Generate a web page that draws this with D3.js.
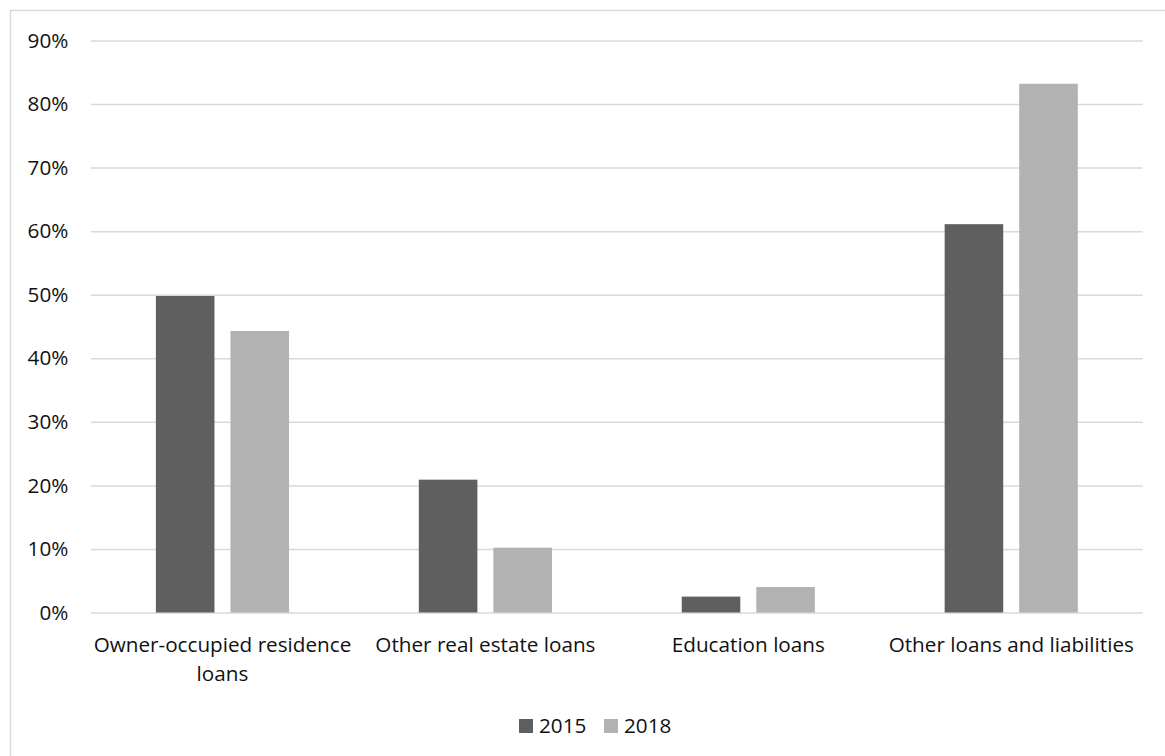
<!DOCTYPE html>
<html>
<head>
<meta charset="utf-8">
<script src="https://cdn.jsdelivr.net/npm/d3@7/dist/d3.min.js"></script>
<style>
  html, body { margin: 0; padding: 0; background: #fff; }
  svg { display: block; }
  text { font-family: "Open Sans", "Noto Sans", sans-serif; fill: #111; }
</style>
</head>
<body>
<svg id="chart" width="1165" height="756"></svg>
<script>
const categories = ["Owner-occupied residence loans", "Other real estate loans", "Education loans", "Other loans and liabilities"];
const seriesNames = ["2015", "2018"];
const values2015 = [0.498, 0.209, 0.025, 0.611];
const values2018 = [0.443, 0.102, 0.040, 0.832];
const yTicks = [0, 0.1, 0.2, 0.3, 0.4, 0.5, 0.6, 0.7, 0.8, 0.9];
const colors = ["#5f5f5f", "#b2b2b2"];

const seriesValues = [values2015, values2018];
const svg = d3.select("#chart");
const W = 1165, H = 756;
const FS = 20.7;

// outer border (chart area)
svg.append("rect").attr("x", 10.5).attr("y", 10.5).attr("width", W).attr("height", H)
  .attr("fill", "none").attr("stroke", "#d9d9d9").attr("stroke-width", 1.5);

const plot = { left: 91, right: 1142.7, top: 40.5, bottom: 612.5 };

const x0 = d3.scaleBand().domain(categories).range([plot.left, plot.right]).paddingInner(0).paddingOuter(0);
const x1 = d3.scaleBand().domain(seriesNames).range([0, x0.bandwidth()]).paddingInner(0.2145).paddingOuter(0.87);
const y = d3.scaleLinear().domain([0, 0.9]).range([plot.bottom, plot.top]);

// gridlines
const yAxis = d3.axisLeft(y).tickValues(yTicks).tickSize(-(plot.right - plot.left)).tickFormat(d3.format(".0%")).tickPadding(22.7);
const gy = svg.append("g").attr("transform", `translate(${plot.left},0)`).call(yAxis);
gy.select(".domain").remove();
gy.selectAll(".tick line").attr("stroke", "#d9d9d9").attr("stroke-width", 1.5);
gy.selectAll(".tick text").attr("font-size", FS).attr("font-family", "'Open Sans', sans-serif").attr("fill", "#111");

// bars
const groups = svg.append("g").selectAll("g").data(categories).join("g")
  .attr("transform", d => `translate(${x0(d)},0)`);
groups.selectAll("rect")
  .data((c, ci) => seriesNames.map((s, si) => ({ s, si, v: seriesValues[si][ci] })))
  .join("rect")
  .attr("x", d => x1(d.s))
  .attr("width", x1.bandwidth())
  .attr("y", d => y(d.v))
  .attr("height", d => y(0) - y(d.v))
  .attr("fill", d => colors[d.si]);

// x axis labels (wrapped)
const xAxis = d3.axisBottom(x0).tickSize(0).tickPadding(0);
const gx = svg.append("g").attr("transform", `translate(0,${plot.bottom})`).call(xAxis);
gx.select(".domain").remove();
gx.selectAll(".tick text").attr("font-size", FS).attr("font-family", "'Open Sans', sans-serif").attr("fill", "#111")
  .attr("y", 0).attr("dy", 0).each(function(d) {
    const t = d3.select(this);
    const words = d.split(" ");
    t.text(null);
    const maxW = x0.bandwidth() - 4;
    let line = [];
    let lineNo = 0;
    let tspan = t.append("tspan").attr("x", 0).attr("y", 39.5);
    for (const w of words) {
      line.push(w);
      tspan.text(line.join(" "));
      if (tspan.node().getComputedTextLength() > maxW && line.length > 1) {
        line.pop();
        tspan.text(line.join(" "));
        line = [w];
        lineNo++;
        tspan = t.append("tspan").attr("x", 0).attr("y", 39.5 + lineNo * 29).text(w);
      }
    }
  });

// legend
const legend = svg.append("g");
const legendX = [519, 604];
seriesNames.forEach((s, i) => {
  legend.append("rect").attr("x", legendX[i]).attr("y", 719).attr("width", 14).attr("height", 14).attr("fill", colors[i]);
  legend.append("text").attr("x", legendX[i] + 20).attr("y", 733).attr("font-size", FS).text(s);
});
</script>
</body>
</html>
